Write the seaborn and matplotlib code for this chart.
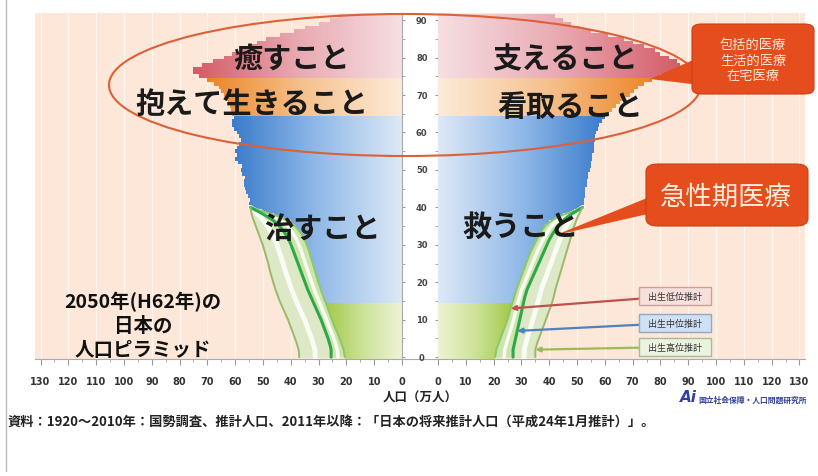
"""
plot.py — 2050年 日本の人口ピラミッド（医療の役割の重ね書き）
"""

import numpy as np
import matplotlib
matplotlib.use("Agg")
import matplotlib.pyplot as plt
import seaborn as sns
from matplotlib.colors import LinearSegmentedColormap
from matplotlib.patches import Ellipse, FancyBboxPatch, Polygon
from matplotlib.path import Path
from matplotlib.lines import Line2D

sns.set_style("white")
plt.rcParams["font.family"] = ["Noto Sans CJK JP", "DejaVu Sans"]

# ── Data (万人, single-year ages 0..91) ──────────────────────────────────
ages = np.arange(92)

male_pop = np.array([
    20.5, 20.8, 21.0, 21.5, 22.0, 22.5, 23.0, 23.6, 24.2, 24.7,   # 0-9
    25.2, 25.7, 26.2, 26.7, 27.2, 27.7, 28.2, 28.7, 29.2, 29.6,   # 10-19
    30.1, 30.5, 30.9, 31.3, 31.7, 32.1, 32.5, 32.9, 33.3, 33.8,   # 20-29
    34.3, 34.8, 35.5, 36.3, 37.3, 38.5, 40.0, 42.5, 46.0, 50.5,   # 30-39
    54.5, 55.0, 54.5, 55.5, 56.0, 56.5, 57.0, 57.0, 56.5, 57.5,   # 40-49
    58.0, 57.5, 59.0, 60.0, 59.5, 60.0, 59.5, 58.5, 58.0, 58.5,   # 50-59
    59.5, 60.5, 61.0, 61.0, 60.5, 61.0, 61.5, 62.0, 62.5, 63.0,   # 60-69
    64.0, 65.0, 66.0, 67.5, 70.0, 73.0, 75.0, 75.0, 72.0, 68.0,   # 70-79
    64.0, 61.0, 58.0, 55.0, 52.0, 49.0, 44.0, 39.0, 35.0, 30.0,   # 80-89
    26.0, 23.0,                                                   # 90-91
])

female_pop = np.array([
    20.5, 20.8, 21.0, 21.5, 22.0, 22.5, 23.0, 23.5, 24.0, 24.5,
    25.0, 25.4, 25.8, 26.2, 26.6, 27.0, 27.4, 27.8, 28.2, 28.7,
    29.2, 29.7, 30.2, 30.7, 31.2, 31.7, 32.2, 32.7, 33.3, 33.9,
    34.6, 35.3, 36.0, 36.8, 37.6, 38.5, 40.0, 42.0, 45.0, 49.0,
    52.0, 52.5, 52.5, 53.0, 53.0, 53.0, 53.5, 53.5, 54.0, 54.0,
    54.5, 55.0, 55.0, 55.5, 55.5, 56.0, 56.0, 56.0, 56.5, 56.5,
    57.0, 57.5, 58.0, 59.0, 60.0, 61.0, 62.5, 64.0, 65.5, 67.0,
    69.0, 70.5, 72.0, 74.0, 77.0, 80.0, 84.0, 88.0, 87.0, 86.0,
    83.0, 80.0, 78.0, 74.0, 70.0, 67.0, 61.0, 55.0, 51.0, 48.0,
    45.0, 42.0,
])

# birth-variant projections, ages 0..40 (low variant = pyramid edge)
proj_ages = np.arange(41)

male_mid = np.array([
    25.5, 25.5, 25.5, 25.8, 26.2, 26.6, 27.1, 27.6, 28.1, 28.6,
    29.1, 29.7, 30.3, 30.9, 31.5, 32.1, 32.7, 33.3, 33.9, 34.4,
    34.9, 35.4, 35.9, 36.4, 36.9, 37.4, 37.9, 38.4, 38.9, 39.4,
    39.9, 40.5, 41.2, 42.0, 43.0, 44.1, 45.5, 47.3, 49.5, 52.0, 54.5,
])
male_high = np.array([
    37.0, 37.0, 37.2, 37.6, 38.0, 38.5, 39.0, 39.5, 40.0, 40.5,
    41.0, 41.6, 42.2, 42.8, 43.4, 44.0, 44.5, 45.0, 45.5, 45.9,
    46.3, 46.7, 47.1, 47.5, 47.8, 48.1, 48.5, 48.9, 49.3, 49.7,
    50.1, 50.6, 51.1, 51.6, 52.1, 52.6, 53.1, 53.6, 54.0, 54.3, 54.5,
])
female_mid = np.array([
    27.0, 27.0, 27.0, 27.3, 27.6, 27.9, 28.2, 28.5, 28.8, 29.1,
    29.4, 29.7, 30.0, 30.3, 30.6, 30.9, 31.2, 31.6, 32.0, 32.6,
    33.2, 33.8, 34.4, 35.0, 35.6, 36.2, 36.8, 37.4, 38.0, 38.6,
    39.2, 39.8, 40.5, 41.3, 42.2, 43.2, 44.4, 45.8, 47.6, 49.8, 52.0,
])
female_high = np.array([
    35.0, 35.0, 35.0, 35.4, 35.8, 36.3, 36.8, 37.3, 37.8, 38.3,
    38.8, 39.3, 39.8, 40.3, 40.8, 41.2, 41.6, 41.9, 42.2, 42.6,
    43.0, 43.4, 43.8, 44.2, 44.6, 45.0, 45.4, 45.8, 46.2, 46.6,
    47.0, 47.4, 47.8, 48.2, 48.6, 49.0, 49.5, 50.0, 50.6, 51.3, 52.0,
])

# age bands: (name, first age, last age)
bands = [("green", 0, 14), ("blue", 15, 64), ("orange", 65, 74), ("red", 75, 91)]
band_colors = {
    "green":  ("#eef3d4", "#cde39a", "#a3c94a"),
    "blue":   ("#dde9f6", "#90b9e8", "#3a7bcb"),
    "orange": ("#fcebd9", "#f6c28e", "#ec8526"),
    "red":    ("#f6dfe2", "#e9a9b1", "#d35a66"),
}

age_ticks = list(range(0, 91, 10))
pop_ticks = list(range(0, 131, 10))

variant_labels = ["出生低位推計", "出生中位推計", "出生高位推計"]
variant_target_ages = [13, 7, 2]

role_labels_left = ["癒すこと", "抱えて生きること", "治すこと"]
role_labels_right = ["支えること", "看取ること", "救うこと"]

# ── Figure layout (pixel helpers) ────────────────────────────────────────
W, H = 818, 477
fig = plt.figure(figsize=(W / 100, H / 100), dpi=100)
fig.patch.set_facecolor("white")


def fx(x):
    return x / W


def fy(y):
    return 1 - y / H


TOP, BOT = 14, 360
ax_l = fig.add_axes([fx(35), fy(BOT), fx(402) - fx(35), fy(TOP) - fy(BOT)])
ax_c = fig.add_axes([fx(402), fy(BOT), fx(438) - fx(402), fy(TOP) - fy(BOT)])
ax_r = fig.add_axes([fx(438), fy(BOT), fx(805) - fx(438), fy(TOP) - fy(BOT)])

YLIM = (-0.5, 91.9)
BG = "#fce7d8"


# ── Pyramid side ─────────────────────────────────────────────────────────
def draw_side(ax, pop, mid, high):
    ax.set_facecolor(BG)
    for name, lo, hi in bands:
        sel = slice(lo, hi + 1)
        n0 = len(ax.patches)
        sns.barplot(x=pop[sel], y=ages[sel], orient="y", native_scale=True,
                    width=1.0, color=band_colors[name][1], linewidth=0,
                    errorbar=None, ax=ax, zorder=2)
        rects = ax.patches[n0:]
        clip = Path.make_compound_path(
            *[r.get_path().transformed(r.get_patch_transform()) for r in rects])
        cmap = LinearSegmentedColormap.from_list(name, band_colors[name])
        grad = np.linspace(0, 1, 256).reshape(1, -1)
        im = ax.imshow(grad, cmap=cmap, aspect="auto", interpolation="bicubic",
                       extent=[0, pop[sel].max(), lo - 0.5, hi + 0.5], zorder=3)
        im.set_clip_path(clip, transform=ax.transData)

    # projection tubes (low = pyramid edge, mid, high)
    low = pop[: len(proj_ages)]
    ax.fill_betweenx(proj_ages, low, mid, color="#cde5ad", lw=0, zorder=4)
    ax.fill_betweenx(proj_ages, mid, high, color="#dde8c6", lw=0, zorder=4)
    ax.plot((low + mid) / 2, proj_ages, color="white", lw=2.5, alpha=0.85, zorder=5)
    ax.plot((mid + high) / 2, proj_ages, color="white", lw=3.5, alpha=0.85, zorder=5)
    sns.lineplot(x=low, y=proj_ages, orient="y", color="#8dc766", lw=1.4, ax=ax, zorder=6)
    sns.lineplot(x=mid, y=proj_ages, orient="y", color="#2fa84a", lw=2.2, ax=ax, zorder=6)
    sns.lineplot(x=high, y=proj_ages, orient="y", color="#9cb86c", lw=1.4, ax=ax, zorder=6)

    ax.set_ylim(*YLIM)
    ax.set_yticks([])
    ax.set_ylabel("")
    ax.set_xlabel("")
    ax.set_xticks(pop_ticks)
    ax.set_xticklabels([str(t) for t in pop_ticks], fontsize=7, fontweight="bold",
                       color="#333333", family="DejaVu Sans")
    ax.set_xticks(range(5, 131, 10), minor=True)
    ax.tick_params(axis="x", which="major", length=4, pad=8, color="#999999",
                   direction="out", bottom=True)
    ax.tick_params(axis="x", which="minor", length=2, color="#999999",
                   direction="out", bottom=True)
    ax.set_axisbelow(True)
    ax.xaxis.grid(True, color="#fff6f0", lw=1.0)
    for s in ("top", "left", "right"):
        ax.spines[s].set_visible(False)
    ax.spines["bottom"].set_color("#aaaaaa")
    ax.spines["bottom"].set_linewidth(0.8)


draw_side(ax_l, male_pop, male_mid, male_high)
draw_side(ax_r, female_pop, female_mid, female_high)
ax_l.set_xlim(132, 0)
ax_r.set_xlim(0, 132)

# ── Center age strip ─────────────────────────────────────────────────────
ax_c.set_facecolor("white")
ax_c.set_xlim(0, 1)
ax_c.set_ylim(*YLIM)
ax_c.set_xticks([])
ax_c.set_yticks(age_ticks)
ax_c.set_yticklabels([])
ax_c.set_yticks(range(5, 91, 10), minor=True)
ax_c.tick_params(axis="y", which="both", direction="in", length=2.5,
                 left=True, right=True, color="#999999")
for a in age_ticks:
    ax_c.text(0.55, a, str(a), ha="center", va="center", fontsize=6,
              fontweight="bold", color="#444444", family="DejaVu Sans")
for s in ("left", "right"):
    ax_c.spines[s].set_color("#aaaaaa")
    ax_c.spines[s].set_linewidth(0.8)
ax_c.spines["top"].set_visible(False)
ax_c.spines["bottom"].set_color("#aaaaaa")

# ── Variant legend boxes with arrows ─────────────────────────────────────
female_low = female_pop[: len(proj_ages)]
legend_boxes = [
    (female_low, "#f7e0dc", "#c9a29c", "#c0504d", 297),
    (female_mid, "#cfe0f4", "#8fa8c8", "#4f81bd", 324),
    (female_high, "#eaf3e0", "#a9b99a", "#9bbb59", 348),
]
for label, age, (vals, fc, ec, ac, yb) in zip(variant_labels, variant_target_ages, legend_boxes):
    ax_r.annotate(
        "  " + label + "  ", xy=(vals[age], age), xycoords="data",
        xytext=(fx(675), fy(yb)), textcoords="figure fraction",
        ha="center", va="center", fontsize=6.5, color="#333333",
        bbox=dict(boxstyle="square,pad=0.5", fc=fc, ec=ec, lw=1.0),
        arrowprops=dict(arrowstyle="-|>", color=ac, lw=1.6, mutation_scale=7,
                        shrinkA=0, shrinkB=0),
        zorder=10, annotation_clip=False,
    )

# ── Ellipse and callouts ─────────────────────────────────────────────────
fig.add_artist(Ellipse((fx(405), fy(86)), width=592 / W, height=142 / H,
                       transform=fig.transFigure, fill=False, ec="#dc6038",
                       lw=1.5, zorder=2))

CALLOUT = "#e64d1c"
fig.add_artist(Polygon([(fx(700), fy(58)), (fx(700), fy(86)), (fx(650), fy(80))],
                       closed=True, transform=fig.transFigure, fc=CALLOUT,
                       ec="none", zorder=2))
fig.add_artist(FancyBboxPatch((fx(692), fy(95)), (814 - 692) / W, 70 / H,
                              boxstyle="round,pad=0,rounding_size=0.012",
                              transform=fig.transFigure, fc=CALLOUT,
                              ec="#c8401a", lw=0.8, zorder=2))
fig.text(fx(753), fy(61), "包括的医療\n生活的医療\n在宅医療", ha="center",
         va="center", fontsize=9.5, color="#ffe6d8", linespacing=1.25, zorder=5)

fig.add_artist(Polygon([(fx(652), fy(197)), (fx(652), fy(214)), (fx(556), fy(236))],
                       closed=True, transform=fig.transFigure, fc=CALLOUT,
                       ec="none", zorder=2))
fig.add_artist(FancyBboxPatch((fx(646), fy(227)), (808 - 646) / W, 62 / H,
                              boxstyle="round,pad=0,rounding_size=0.015",
                              transform=fig.transFigure, fc=CALLOUT,
                              ec="#c8401a", lw=0.8, zorder=2))
fig.text(fx(726), fy(197), "急性期医療", ha="center", va="center",
         fontsize=19, color="#ffeedd", zorder=5)

# ── Role labels ──────────────────────────────────────────────────────────
role_pos_left = [(292, 59), (252, 104), (322, 229)]
role_pos_right = [(565, 59), (570, 107), (521, 227)]
for txt, (x, y) in zip(role_labels_left + role_labels_right,
                       role_pos_left + role_pos_right):
    fig.text(fx(x), fy(y), txt, ha="center", va="center", fontsize=21,
             fontweight="bold", color="#1a1a1a", zorder=6)

fig.text(fx(143), fy(326), "2050年(H62年)の\n日本の\n人口ピラミッド",
         ha="center", va="center", fontsize=14, fontweight="bold",
         color="#111111", linespacing=1.3, zorder=6)

# ── Axis label, source, logo ─────────────────────────────────────────────
fig.text(fx(420), fy(398), "人口（万人）", ha="center", va="center",
         fontsize=9, fontweight="bold", color="#222222")
fig.text(fx(8), fy(422),
         "資料：1920～2010年：国勢調査、推計人口、2011年以降：「日本の将来推計人口（平成24年1月推計）」。",
         ha="left", va="center", fontsize=9.5, fontweight="bold", color="#222222")
fig.text(fx(688), fy(398), "Ai", ha="center", va="center", fontsize=11,
         style="italic", fontweight="bold", color="#3340a0", family="DejaVu Sans")
fig.text(fx(698), fy(400), "国立社会保障・人口問題研究所", ha="left", va="center",
         fontsize=5.6, fontweight="bold", color="#33409a")

# slide border on the left
fig.add_artist(Line2D([fx(6), fx(6)], [fy(0), fy(472)], transform=fig.transFigure,
                      color="#bbbbbb", lw=1.0))

plt.savefig("out.png", dpi=100)
plt.close(fig)
